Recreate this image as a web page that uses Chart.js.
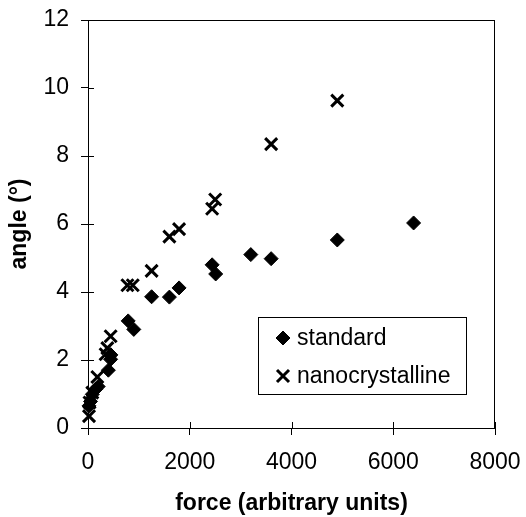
<!DOCTYPE html>
<html>
<head>
<meta charset="utf-8">
<script src="https://cdn.jsdelivr.net/npm/chart.js@4"></script>
<style>
  html, body { margin: 0; padding: 0; background: #fff; }
  #wrap { width: 526px; height: 517px; }
</style>
</head>
<body>
<div id="wrap"><canvas id="chart" width="526" height="517"></canvas></div>
<script>
// standard samples
var standardForce = [20, 50, 85, 150, 200, 400, 445, 450, 790, 900, 1250, 1600, 1790, 2440, 2510, 3200, 3600, 4900, 6400];
var standardAngle = [0.65, 0.78, 0.99, 1.14, 1.22, 1.7, 2.02, 2.15, 3.15, 2.9, 3.86, 3.85, 4.12, 4.8, 4.53, 5.1, 4.98, 5.53, 6.03];

// nanocrystalline samples
var nanoForce = [20, 30, 85, 184, 346, 380, 445, 775, 880, 1250, 1600, 1790, 2440, 2500, 3600, 4900];
var nanoAngle = [0.35, 0.75, 1.04, 1.5, 2.17, 2.35, 2.7, 4.2, 4.2, 4.62, 5.63, 5.85, 6.45, 6.72, 8.35, 9.63];

var seriesNames = ['standard', 'nanocrystalline'];
var xTicks = [0, 2000, 4000, 6000, 8000];
var yTicks = [0, 2, 4, 6, 8, 10, 12];

var font = '"Liberation Sans", Arial, sans-serif';

function pts(xs, ys) {
    var out = [];
    for (var i = 0; i < xs.length; i++) out.push({ x: xs[i], y: ys[i] });
    return out;
}

// box round the plot, inner half of the ticks, and the boxed legend
var boxPlugin = {
    id: 'box',
    afterDraw: function (chart) {
        var ctx = chart.ctx;
        var a = chart.chartArea;
        var xs = chart.scales.x, ys = chart.scales.y;
        ctx.save();
        ctx.strokeStyle = '#000';
        ctx.lineWidth = 1;
        ctx.strokeRect(a.left + 0.5, a.top + 0.5, a.right - a.left - 1, a.bottom - a.top);
        ctx.beginPath();
        xTicks.forEach(function (v) {
            var px = Math.round(xs.getPixelForValue(v)) + 0.5;
            ctx.moveTo(px, a.bottom);
            ctx.lineTo(px, a.bottom - 6);
        });
        yTicks.forEach(function (v) {
            var py = Math.round(ys.getPixelForValue(v)) + 0.5;
            ctx.moveTo(a.left, py);
            ctx.lineTo(a.left + 6, py);
        });
        ctx.stroke();

        // legend
        var lx = a.left + 170, ly = a.top + 297, lw = 208, lh = 77;
        ctx.fillStyle = '#fff';
        ctx.fillRect(lx, ly, lw, lh);
        ctx.strokeRect(lx + 0.5, ly + 0.5, lw, lh);
        ctx.fillStyle = '#000';
        ctx.font = '23px ' + font;
        ctx.textBaseline = 'middle';
        var styles = ['rectRot', 'crossRot'];
        var radii = [7, 8.5];
        var rows = [ly + 21, ly + 59];
        for (var i = 0; i < seriesNames.length; i++) {
            ctx.lineWidth = i === 0 ? 1 : 3;
            Chart.helpers.drawPoint(ctx, {
                pointStyle: styles[i], radius: radii[i], borderWidth: ctx.lineWidth
            }, lx + 25, rows[i]);
            ctx.fillText(seriesNames[i], lx + 39, rows[i] + 1);
        }
        ctx.restore();
    }
};

var ctx = document.getElementById('chart').getContext('2d');
var chart = new Chart(ctx, {
    type: 'scatter',
    data: {
        datasets: [{
            label: seriesNames[0],
            data: pts(standardForce, standardAngle),
            pointStyle: 'rectRot',
            pointRadius: 7,
            backgroundColor: '#000',
            borderColor: '#000',
            borderWidth: 1
        }, {
            label: seriesNames[1],
            data: pts(nanoForce, nanoAngle),
            pointStyle: 'crossRot',
            pointRadius: 8.5,
            backgroundColor: '#000',
            borderColor: '#000',
            borderWidth: 3
        }]
    },
    options: {
        responsive: false,
        animation: false,
        clip: false,
        layout: { padding: { left: 0, right: 31, top: 20, bottom: 0 } },
        plugins: {
            legend: { display: false },
            tooltip: { enabled: false }
        },
        scales: {
            x: {
                type: 'linear',
                min: 0, max: 8000,
                afterBuildTicks: function (s) { s.ticks = xTicks.map(function (v) { return { value: v }; }); },
                afterFit: function (s) { s.height = 89; s.paddingLeft = 0; s.paddingRight = 0; },
                grid: { display: true, drawOnChartArea: false, drawTicks: true, tickLength: 7, color: '#000' },
                border: { display: true, color: '#000', width: 1 },
                ticks: { color: '#000', font: { family: font, size: 23 }, padding: 14, maxRotation: 0,
                         callback: function (v) { return String(v); } },
                title: { display: true, text: 'force (arbitrary units)', color: '#000',
                         font: { family: font, size: 23, weight: 'bold' }, padding: { top: 8, bottom: 0 } }
            },
            y: {
                type: 'linear',
                min: 0, max: 12,
                afterBuildTicks: function (s) { s.ticks = yTicks.map(function (v) { return { value: v }; }); },
                afterFit: function (s) { s.width = 88; s.paddingTop = 0; s.paddingBottom = 0; },
                grid: { display: true, drawOnChartArea: false, drawTicks: true, tickLength: 7, color: '#000' },
                border: { display: true, color: '#000', width: 1 },
                ticks: { color: '#000', font: { family: font, size: 23 }, padding: 12,
                         callback: function (v) { return String(v); } },
                title: { display: true, text: 'angle (°)', color: '#000',
                         font: { family: font, size: 23, weight: 'bold' }, padding: { top: 6, bottom: 0 } }
            }
        }
    },
    plugins: [boxPlugin]
});
</script>
</body>
</html>
